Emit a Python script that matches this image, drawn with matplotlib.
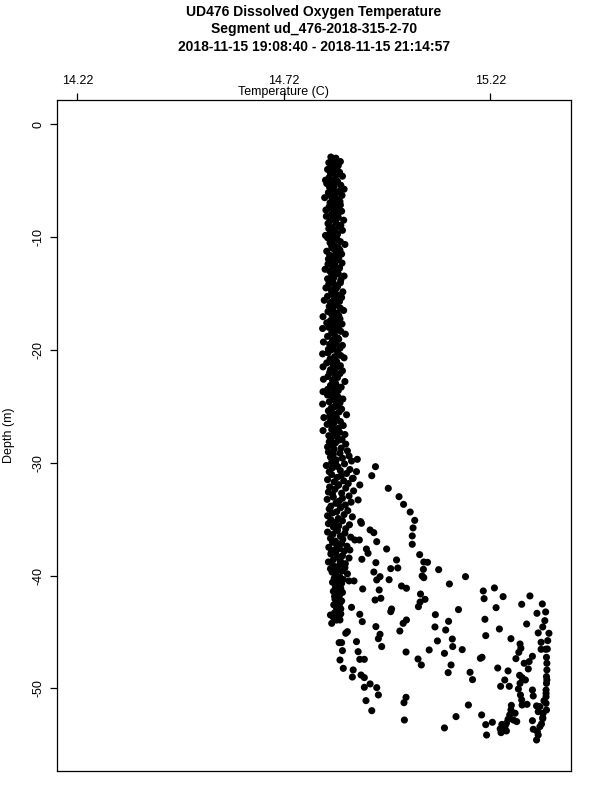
import matplotlib
matplotlib.use("Agg")
import matplotlib.pyplot as plt

plt.rcParams['font.family'] = ['Liberation Sans', 'DejaVu Sans']

title_lines = ["UD476 Dissolved Oxygen Temperature",
               "Segment ud_476-2018-315-2-70",
               "2018-11-15 19:08:40 - 2018-11-15 21:14:57"]
x_label = "Temperature (C)"
y_label = "Depth (m)"
x_ticks = [14.22, 14.72, 15.22]
x_tick_labels = ["14.22", "14.72", "15.22"]
y_ticks = [0, -10, -20, -30, -40, -50]
x_limits = [14.1716, 15.4154]
y_limits = [-57.33, 2.13]

# dense near-isothermal column (upper water column)
col_depth = [
    -2.9, -3.0, -3.15, -3.3, -3.4, -3.5, -3.65, -3.8, -3.9,
    -4.0, -4.1, -4.25, -4.35, -4.5, -4.6, -4.7, -4.85, -4.95,
    -5.05, -5.15, -5.25, -5.4, -5.5, -5.6, -5.75, -5.85, -5.95,
    -6.05, -6.2, -6.3, -6.4, -6.5, -6.65, -6.75, -6.85, -6.95,
    -7.05, -7.15, -7.3, -7.4, -7.5, -7.6, -7.7, -7.85, -7.95,
    -8.0, -8.15, -8.25, -8.35, -8.5, -8.6, -8.7, -8.8, -8.95,
    -9.05, -9.15, -9.25, -9.4, -9.5, -9.6, -9.75, -9.85, -9.95,
    -10.05, -10.2, -10.3, -10.4, -10.5, -10.65, -10.75, -10.85, -10.95,
    -11.0, -11.15, -11.25, -11.35, -11.5, -11.6, -11.7, -11.85, -11.95,
    -12.05, -12.15, -12.3, -12.4, -12.5, -12.6, -12.75, -12.85, -12.95,
    -13.0, -13.1, -13.25, -13.35, -13.45, -13.6, -13.7, -13.8, -13.95,
    -14.05, -14.15, -14.25, -14.4, -14.5, -14.6, -14.7, -14.85, -14.95,
    -15.0, -15.15, -15.25, -15.35, -15.5, -15.6, -15.7, -15.8, -15.95,
    -16.05, -16.15, -16.3, -16.4, -16.5, -16.6, -16.75, -16.85, -16.95,
    -17.05, -17.15, -17.25, -17.4, -17.5, -17.6, -17.7, -17.85, -17.95,
    -18.0, -18.1, -18.25, -18.35, -18.45, -18.6, -18.7, -18.8, -18.95,
    -19.05, -19.15, -19.3, -19.4, -19.5, -19.6, -19.75, -19.85, -19.95,
    -20.0, -20.15, -20.25, -20.35, -20.5, -20.6, -20.7, -20.8, -20.95,
    -21.05, -21.15, -21.25, -21.4, -21.5, -21.6, -21.75, -21.85, -21.95,
    -22.0, -22.1, -22.25, -22.35, -22.45, -22.6, -22.7, -22.8, -22.95,
    -23.05, -23.15, -23.3, -23.4, -23.5, -23.6, -23.7, -23.85, -23.95,
    -24.0, -24.15, -24.25, -24.35, -24.5, -24.6, -24.7, -24.8, -24.95,
    -25.05, -25.15, -25.25, -25.4, -25.5, -25.6, -25.75, -25.85, -25.95,
    -26.0, -26.1, -26.25, -26.35, -26.45, -26.6, -26.7, -26.8, -26.95,
    -27.05, -27.15, -27.3, -27.4, -27.5, -27.6, -27.7, -27.85, -27.95,
    -28.0, -28.15, -28.25, -28.35, -28.5, -28.6, -28.7, -28.8, -28.95,
    -29.05, -29.15, -29.25, -29.4, -29.5, -29.6, -29.75, -29.85, -29.95,
    -30.0, -30.1, -30.25, -30.35, -30.45, -30.6, -30.7, -30.8, -30.95,
    -31.05, -31.15, -31.3, -31.4, -31.5, -31.6, -31.7, -31.85, -31.95,
    -32.0, -32.15, -32.25, -32.35, -32.5, -32.6, -32.7, -32.8, -32.95,
    -33.05, -33.15, -33.25, -33.4, -33.5, -33.6, -33.75, -33.85, -33.95,
    -34.0, -34.1, -34.25, -34.35, -34.45, -34.6, -34.7, -34.8, -34.95,
    -35.05, -35.15, -35.3, -35.4, -35.5, -35.6, -35.7, -35.85, -35.95,
    -36.0, -36.15, -36.25, -36.35, -36.5, -36.6, -36.7, -36.8, -36.95,
    -37.05, -37.15, -37.25, -37.4, -37.5, -37.6, -37.75, -37.85, -37.95,
    -38.0, -38.1, -38.25, -38.35, -38.45, -38.6, -38.7, -38.8, -38.95,
    -39.05, -39.15, -39.3, -39.4, -39.5, -39.6, -39.7, -39.85, -39.95,
    -40.0, -40.15, -40.25, -40.35, -40.5, -40.6, -40.7, -40.8, -40.95,
    -41.05, -41.15, -41.25, -41.4, -41.5, -41.6, -41.75, -41.85, -41.95,
    -42.0, -42.1, -42.25, -42.35, -42.45, -42.6, -42.7, -42.8, -42.95,
    -43.05, -43.15, -43.3, -43.4, -43.5, -43.6, -43.7, -43.85, -43.95,
]
col_temp = [
    14.834, 14.846, 14.838, 14.857, 14.829, 14.843, 14.852, 14.836, 14.848,
    14.826, 14.840, 14.855, 14.833, 14.847, 14.862, 14.830, 14.844, 14.821,
    14.850, 14.836, 14.824, 14.858, 14.842, 14.831, 14.866, 14.839, 14.853,
    14.828, 14.845, 14.861, 14.835, 14.819, 14.849, 14.838, 14.856, 14.832,
    14.843, 14.857, 14.830, 14.848, 14.836, 14.822, 14.860, 14.841, 14.851,
    14.835, 14.823, 14.852, 14.840, 14.865, 14.831, 14.846, 14.827, 14.858,
    14.854, 14.838, 14.829, 14.862, 14.845, 14.833, 14.850, 14.821, 14.841,
    14.826, 14.849, 14.837, 14.857, 14.832, 14.868, 14.843, 14.836, 14.852,
    14.839, 14.856, 14.824, 14.846, 14.860, 14.831, 14.842, 14.853, 14.828,
    14.848, 14.833, 14.861, 14.827, 14.844, 14.838, 14.855, 14.820, 14.850,
    14.831, 14.845, 14.852, 14.836, 14.866, 14.841, 14.826, 14.858, 14.839,
    14.857, 14.829, 14.843, 14.850, 14.822, 14.846, 14.835, 14.863, 14.840,
    14.836, 14.851, 14.826, 14.860, 14.842, 14.818, 14.855, 14.833, 14.847,
    14.844, 14.830, 14.857, 14.839, 14.865, 14.827, 14.849, 14.836, 14.853,
    14.815, 14.841, 14.856, 14.833, 14.848, 14.824, 14.861, 14.838, 14.852,
    14.829, 14.814, 14.846, 14.858, 14.836, 14.869, 14.843, 14.826, 14.851,
    14.853, 14.838, 14.816, 14.847, 14.831, 14.862, 14.840, 14.856, 14.828,
    14.835, 14.850, 14.827, 14.814, 14.858, 14.843, 14.866, 14.832, 14.846,
    14.848, 14.824, 14.839, 14.857, 14.815, 14.846, 14.833, 14.862, 14.841,
    14.831, 14.856, 14.844, 14.827, 14.850, 14.816, 14.838, 14.868, 14.845,
    14.846, 14.833, 14.859, 14.840, 14.826, 14.852, 14.815, 14.843, 14.835,
    14.826, 14.851, 14.838, 14.863, 14.844, 14.830, 14.856, 14.814, 14.848,
    14.842, 14.835, 14.860, 14.828, 14.854, 14.839, 14.872, 14.831, 14.847,
    14.817, 14.848, 14.833, 14.857, 14.842, 14.825, 14.864, 14.838, 14.852,
    14.836, 14.815, 14.855, 14.843, 14.868, 14.829, 14.849, 14.834, 14.861,
    14.853, 14.830, 14.845, 14.870, 14.838, 14.826, 14.859, 14.842, 14.874,
    14.828, 14.856, 14.840, 14.878, 14.833, 14.862, 14.847, 14.884, 14.836,
    14.845, 14.867, 14.823, 14.851, 14.838, 14.880, 14.857, 14.830, 14.872,
    14.836, 14.859, 14.849, 14.886, 14.826, 14.865, 14.842, 14.876, 14.853,
    14.852, 14.831, 14.870, 14.844, 14.889, 14.828, 14.860, 14.838, 14.878,
    14.840, 14.862, 14.825, 14.854, 14.883, 14.846, 14.869, 14.834, 14.858,
    14.857, 14.830, 14.875, 14.848, 14.838, 14.866, 14.826, 14.886, 14.852,
    14.834, 14.862, 14.845, 14.828, 14.879, 14.853, 14.840, 14.870, 14.848,
    14.850, 14.826, 14.868, 14.839, 14.857, 14.882, 14.833, 14.863, 14.845,
    14.838, 14.860, 14.848, 14.873, 14.829, 14.855, 14.842, 14.866, 14.835,
    14.846, 14.834, 14.862, 14.851, 14.878, 14.840, 14.857, 14.828, 14.869,
    14.855, 14.840, 14.868, 14.833, 14.849, 14.861, 14.837, 14.874, 14.845,
    14.848, 14.856, 14.842, 14.864, 14.851, 14.838, 14.860, 14.846, 14.853,
    14.845, 14.858, 14.850, 14.840, 14.862, 14.848, 14.855, 14.843, 14.852,
    14.852, 14.844, 14.860, 14.848, 14.856, 14.841, 14.853, 14.847, 14.858,
    14.849, 14.855, 14.843, 14.858, 14.846, 14.851, 14.840, 14.854, 14.848,
]

# intermediate scattered points (between column and warm bottom layer)
mid_temp = [
    14.929, 14.938, 14.945, 14.969, 14.920, 14.924, 14.909, 14.943, 14.993, 14.996,
    14.979, 14.938, 14.953, 14.945, 14.975, 15.005, 15.017, 14.951, 14.911, 14.955,
    14.941, 15.051, 15.062, 15.050, 15.046, 14.981, 14.979, 14.904, 14.910, 14.884,
    15.017, 15.009, 15.001, 14.953, 14.949, 14.957, 14.943, 14.896, 14.900, 14.904,
    14.915, 14.888, 14.886, 14.907, 14.915, 14.929, 14.915, 14.945, 14.949, 14.919,
    14.933, 15.016, 15.011, 15.012, 14.864, 14.856, 14.862, 14.860, 14.854, 14.870,
    14.874, 14.836, 14.833, 14.856, 14.878, 14.890, 14.892, 14.903, 14.880, 14.906,
    14.908, 14.904, 14.900, 14.896, 14.888, 14.898,
]
mid_depth = [
    -35.96, -36.20, -37.00, -37.65, -37.65, -38.03, -38.56, -38.86, -38.62, -39.33,
    -39.39, -39.69, -40.10, -40.39, -40.37, -40.93, -41.13, -41.28, -41.19, -42.02,
    -42.17, -41.64, -42.11, -42.35, -42.76, -42.97, -43.20, -43.44, -44.09, -42.82,
    -43.94, -44.24, -44.92, -45.21, -45.60, -46.30, -44.53, -45.86, -46.75, -47.43,
    -47.43, -48.37, -49.00, -48.82, -49.05, -49.61, -49.91, -49.94, -50.59, -51.09,
    -51.98, -50.80, -51.27, -52.81, -48.23, -47.49, -46.66, -45.95, -45.95, -45.12,
    -44.98, -44.24, -43.50, -43.94, -40.48, -40.48, -36.85, -36.85, -37.74, -35.22,
    -35.37, -31.97, -33.30, -30.79, -31.38, -29.70,
]

# outer profile and warm bottom layer
deep_temp = [
    14.942, 14.933, 14.973, 14.999, 15.010, 15.026, 15.037, 15.033, 15.031, 15.031,
    15.049, 15.059, 15.068, 15.058, 15.055, 15.059, 15.095, 15.160, 15.121, 15.203,
    15.230, 15.205, 15.251, 15.316, 15.296, 15.234, 15.143, 15.087, 15.207, 15.119,
    15.086, 15.112, 15.242, 15.308, 15.333, 15.354, 15.346, 15.352, 15.347, 15.336,
    15.362, 15.343, 15.359, 15.270, 15.209, 15.128, 15.092, 15.129, 15.152, 15.072,
    15.109, 15.016, 15.045, 15.053, 15.125, 15.118, 15.171, 15.177, 15.196, 15.200,
    15.238, 15.263, 15.255, 15.245, 15.266, 15.282, 15.289, 15.292, 15.294, 15.322,
    15.302, 15.314, 15.312, 15.291, 15.297, 15.305, 15.292, 15.288, 15.293, 15.296,
    15.297, 15.309, 15.322, 15.324, 15.332, 15.340, 15.336, 15.347, 15.356, 15.355,
    15.355, 15.355, 15.356, 15.356, 15.357, 15.357, 15.356, 15.354, 15.343, 15.358,
    15.167, 15.137, 15.109, 15.199, 15.209, 15.225, 15.211, 15.250, 15.255, 15.259,
    15.263, 15.267, 15.270, 15.271, 15.280, 15.276, 15.284, 15.322, 15.324, 15.334,
    15.340, 15.344, 15.336, 15.332, 15.347, 15.348, 15.246, 15.259,
    15.248, 15.252, 15.256, 15.244, 15.253, 15.357, 15.355, 15.350,
]
deep_depth = [
    -30.35, -31.15, -32.27, -33.01, -33.69, -34.37, -35.11, -35.78, -36.49, -37.23,
    -38.15, -38.80, -38.83, -39.45, -40.04, -40.19, -39.48, -40.10, -40.75, -41.37,
    -41.10, -42.05, -41.87, -41.81, -42.55, -42.85, -43.02, -43.47, -43.88, -44.06,
    -44.56, -44.83, -44.74, -44.30, -43.35, -43.23, -42.52, -44.00, -44.56, -45.09,
    -45.12, -45.92, -45.77, -45.60, -45.33, -45.63, -45.80, -46.30, -46.57, -46.60,
    -46.90, -46.78, -47.40, -47.93, -47.93, -48.61, -48.58, -49.23, -47.34, -47.25,
    -48.20, -48.46, -49.26, -49.82, -49.82, -47.37, -46.81, -46.07, -46.45, -47.16,
    -47.78, -47.63, -48.28, -48.85, -49.05, -49.26, -49.56, -50.06, -50.59, -51.03,
    -51.48, -51.42, -50.15, -50.68, -51.56, -51.62, -52.07, -52.60, -51.92, -51.33,
    -50.74, -50.15, -49.56, -48.96, -48.37, -47.78, -47.25, -46.54, -46.54, -46.51,
    -51.48, -52.51, -53.51, -52.36, -53.22, -53.01, -54.14, -53.69, -53.40, -53.10,
    -52.75, -52.36, -51.92, -51.51, -52.21, -52.81, -52.95, -52.87, -53.63, -53.84,
    -53.40, -53.16, -54.14, -54.58, -52.69, -52.21, -53.93, -53.78,
    -53.20, -53.50, -53.30, -53.60, -53.75, -49.25, -50.45, -51.10,
]

W, H = 600, 800
fig = plt.figure(figsize=(6, 8), dpi=100)
ax = fig.add_axes([57.3 / W, 1 - 771 / H, (571 - 57.3) / W, (771 - 100.3) / H])

for t, d in ((col_temp, col_depth), (mid_temp, mid_depth), (deep_temp, deep_depth)):
    ax.scatter(t, d, s=26, c='black', edgecolors='none', zorder=3)

ax.set_xlim(*x_limits)
ax.set_ylim(*y_limits)
for sp in ax.spines.values():
    sp.set_linewidth(0.9)
    sp.set_color('black')

ax.xaxis.tick_top()
ax.set_xticks(x_ticks)
ax.set_xticklabels(x_tick_labels)
ax.set_yticks(y_ticks)
ax.set_yticklabels([str(v) for v in y_ticks], rotation=90, va='center')
ax.tick_params(axis='both', length=5, width=0.9, labelsize=9, colors='black')
ax.tick_params(axis='x', pad=4.5)
ax.tick_params(axis='y', pad=4)

fig.text(283.5 / W, 1 - 92 / H, x_label, ha='center', va='center', fontsize=9)
fig.text(9 / W, 1 - 435 / H, y_label, ha='center', va='center', rotation=90, fontsize=9)

for i, line in enumerate(title_lines):
    fig.text(314 / W, 1 - (12 + 17.5 * i) / H, line, ha='center', va='center',
             fontsize=10, fontweight='bold')

fig.savefig('out.png', dpi=100)
